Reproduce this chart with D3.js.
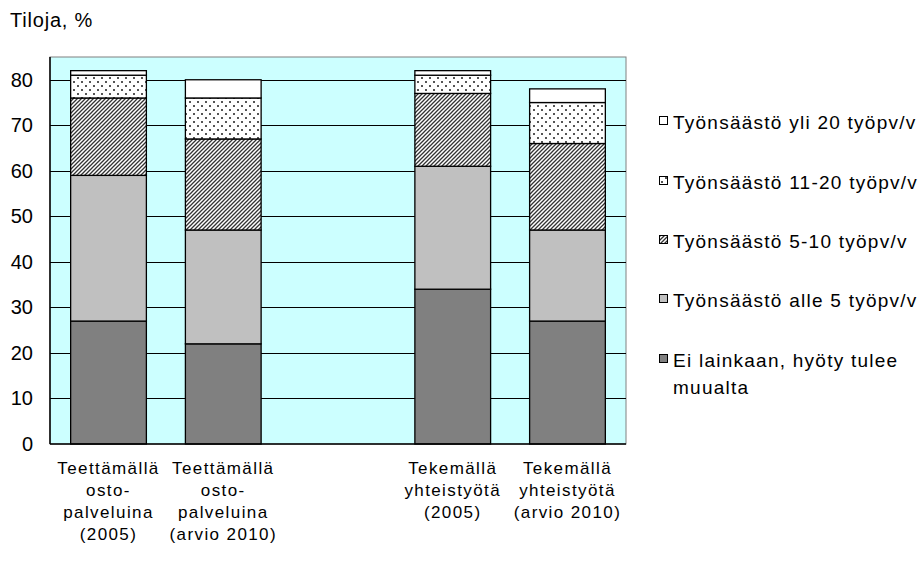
<!DOCTYPE html>
<html><head><meta charset="utf-8">
<script src="https://cdn.jsdelivr.net/npm/d3@7"></script>
<style>
html,body{margin:0;padding:0;background:#fff;}
svg{display:block;font-family:"Liberation Sans",Arial,sans-serif;}
</style></head>
<body>
<svg id="chart" width="924" height="562"></svg>
<script>
// ---- data ----
const categories = ["c1", "c2", "gap", "c3", "c4"];
const categoryLabels = [
  ["Teettämällä", "osto-", "palveluina", "(2005)"],
  ["Teettämällä", "osto-", "palveluina", "(arvio 2010)"],
  [],
  ["Tekemällä", "yhteistyötä", "(2005)"],
  ["Tekemällä", "yhteistyötä", "(arvio 2010)"]
];
const seriesNames = [
  "Ei lainkaan, hyöty tulee muualta",
  "Työnsäästö alle 5 työpv/v",
  "Työnsäästö 5-10 työpv/v",
  "Työnsäästö 11-20 työpv/v",
  "Työnsäästö yli 20 työpv/v"
];
const eiLainkaan = [27, 22, 0, 34, 27];
const alle5      = [32, 25, 0, 27, 20];
const tyo5_10    = [17, 20, 0, 16, 19];
const tyo11_20   = [5, 9, 0, 4, 9];
const yli20      = [1, 4, 0, 1, 3];
const yTicks = [0, 10, 20, 30, 40, 50, 60, 70, 80];
const yMax = 85;
const yTitle = "Tiloja, %";

// ---- layout ----
const svg = d3.select("#chart");
const L = 50, R = 626, T = 57, B = 444;
const x = d3.scaleBand().domain(categories).range([L, R]).paddingInner(0.34).paddingOuter(0.18);
const y = d3.scaleLinear().domain([0, yMax]).range([B, T]);

const defs = svg.append("defs");
const hatch = defs.append("pattern").attr("id", "hatch").attr("patternUnits", "userSpaceOnUse")
  .attr("width", 4).attr("height", 4);
hatch.append("rect").attr("width", 4).attr("height", 4).attr("fill", "#fff");
hatch.append("path").attr("d", "M-1,1 L1,-1 M0,4 L4,0 M3,5 L5,3").attr("stroke", "#333").attr("stroke-width", 1.3);
const dots = defs.append("pattern").attr("id", "dots").attr("patternUnits", "userSpaceOnUse")
  .attr("width", 8).attr("height", 8);
dots.append("rect").attr("width", 8).attr("height", 8).attr("fill", "#fff");
dots.append("rect").attr("x", 1).attr("y", 1).attr("width", 2).attr("height", 2).attr("fill", "#555");
dots.append("rect").attr("x", 5).attr("y", 5).attr("width", 2).attr("height", 2).attr("fill", "#555");

const fills = ["#808080", "#C0C0C0", "url(#hatch)", "url(#dots)", "#ffffff"];

// plot background
svg.append("rect").attr("x", L).attr("y", T).attr("width", R - L).attr("height", B - T)
  .attr("fill", "#CCFFFF").attr("stroke", "#808080").attr("stroke-width", 1);

// gridlines
svg.append("g").selectAll("line").data(yTicks.filter(d => d > 0)).join("line")
  .attr("x1", L).attr("x2", R).attr("y1", d => Math.round(y(d)) + 0.5).attr("y2", d => Math.round(y(d)) + 0.5)
  .attr("stroke", "#000").attr("stroke-width", 1);

// stacked bars
const rows = categories.map((c, i) => ({cat: c, s0: eiLainkaan[i], s1: alle5[i], s2: tyo5_10[i], s3: tyo11_20[i], s4: yli20[i]}));
const stack = d3.stack().keys(["s0", "s1", "s2", "s3", "s4"]);
const stacked = stack(rows);
stacked.forEach((layer, li) => {
  svg.append("g").selectAll("rect").data(layer.filter(d => d[1] - d[0] > 0)).join("rect")
    .attr("x", d => x(d.data.cat))
    .attr("width", x.bandwidth())
    .attr("y", d => y(d[1]))
    .attr("height", d => y(d[0]) - y(d[1]))
    .attr("fill", fills[li])
    .attr("stroke", "#000").attr("stroke-width", 1.3);
});

// axes lines
svg.append("line").attr("x1", L).attr("x2", L).attr("y1", T).attr("y2", B).attr("stroke", "#000").attr("stroke-width", 1.5);
svg.append("line").attr("x1", L).attr("x2", R).attr("y1", B).attr("y2", B).attr("stroke", "#000").attr("stroke-width", 1.5);

// y tick labels
const yAxis = d3.axisLeft(y).tickValues(yTicks).tickSize(0).tickPadding(17);
const ya = svg.append("g").attr("transform", `translate(${L},0)`).call(yAxis);
ya.select(".domain").remove();
ya.selectAll("text").attr("font-size", 20).attr("font-family", "Liberation Sans, Arial, sans-serif").attr("fill", "#000");

// y title
svg.append("text").attr("x", 10).attr("y", 27).attr("font-size", 20).attr("letter-spacing", 0.8).text(yTitle);

// x labels
const xl = svg.append("g");
categories.forEach((c, i) => {
  const cx = x(c) + x.bandwidth() / 2;
  const t = xl.append("text").attr("text-anchor", "middle").attr("font-size", 17).attr("letter-spacing", 1.4);
  categoryLabels[i].forEach((line, k) => {
    t.append("tspan").attr("x", cx).attr("y", 474 + k * 22).text(line);
  });
});

// legend (top to bottom: reverse of stack)
const legendRows = [
  {i: 4, y: 122}, {i: 3, y: 182}, {i: 2, y: 241}, {i: 1, y: 300}, {i: 0, y: 360}
];
const lg = svg.append("g");
legendRows.forEach(r => {
  lg.append("rect").attr("x", 659.5).attr("y", r.y - 5.5).attr("width", 8).attr("height", 8)
    .attr("fill", fills[r.i]).attr("stroke", "#000").attr("stroke-width", 1);
  const t = lg.append("text").attr("font-size", 19).attr("letter-spacing", 1.25);
  if (r.i === 0) {
    t.append("tspan").attr("x", 673).attr("y", r.y + 7).text("Ei lainkaan, hyöty tulee");
    t.append("tspan").attr("x", 673).attr("y", r.y + 34).text("muualta");
  } else {
    t.append("tspan").attr("x", 673).attr("y", r.y + 7).text(seriesNames[r.i]);
  }
});
</script>
</body></html>
